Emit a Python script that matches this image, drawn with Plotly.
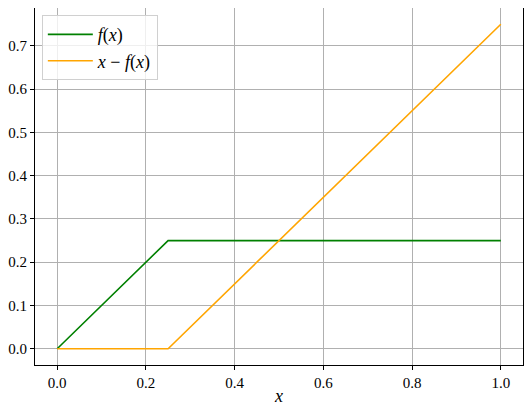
import plotly.graph_objects as go

x_vals = [0.0, 0.25, 1.0]
f_vals = [0.0, 0.25, 0.25]
g_vals = [0.0, 0.0, 0.75]

x_ticks = [0.0, 0.2, 0.4, 0.6, 0.8, 1.0]
y_ticks = [0.0, 0.1, 0.2, 0.3, 0.4, 0.5, 0.6, 0.7]

FONT = "Liberation Serif"

fig = go.Figure()
fig.add_trace(go.Scatter(x=x_vals, y=f_vals, mode="lines", name="<i>f</i>(<i>x</i>)",
                         line={"color": "green", "width": 1.6}))
fig.add_trace(go.Scatter(x=x_vals, y=g_vals, mode="lines", name="<i>x</i> − <i>f</i>(<i>x</i>)",
                         line={"color": "orange", "width": 1.6}))

# the page body keeps its default 8px margin, so the figure is sized to fit inside it
fig.update_layout(
    width=516,
    height=398,
    margin={"l": 27, "r": 1, "t": 0, "b": 41, "autoexpand": False},
    paper_bgcolor="white",
    plot_bgcolor="white",
    font={"family": FONT, "size": 15, "color": "black"},
    showlegend=True,
    legend={
        "x": 0.014,
        "y": 0.98,
        "xanchor": "left",
        "yanchor": "top",
        "bgcolor": "rgba(255,255,255,0.8)",
        "bordercolor": "#d0d0d0",
        "borderwidth": 1,
        "font": {"size": 18, "family": FONT},
        "itemwidth": 45,
    },
)
fig.update_xaxes(
    range=[-0.05, 1.05],
    tickvals=x_ticks,
    ticktext=[f"{v:.1f}" for v in x_ticks],
    showgrid=True,
    gridcolor="#b0b0b0",
    gridwidth=0.8,
    showline=True,
    linecolor="black",
    linewidth=1,
    mirror=True,
    ticks="outside",
    ticklen=4,
    tickcolor="black",
    zeroline=False,
    automargin=False,
    title={"text": "<i>x</i>", "font": {"size": 18}, "standoff": 4},
    tickfont={"size": 15},
)
fig.update_yaxes(
    range=[-0.0375, 0.7875],
    tickvals=y_ticks,
    ticktext=[f"{v:.1f}" for v in y_ticks],
    showgrid=True,
    gridcolor="#b0b0b0",
    gridwidth=0.8,
    showline=True,
    linecolor="black",
    linewidth=1,
    mirror=True,
    ticks="outside",
    ticklen=4,
    tickcolor="black",
    zeroline=False,
    automargin=False,
    tickfont={"size": 15},
)

fig.write_html("out.html")
